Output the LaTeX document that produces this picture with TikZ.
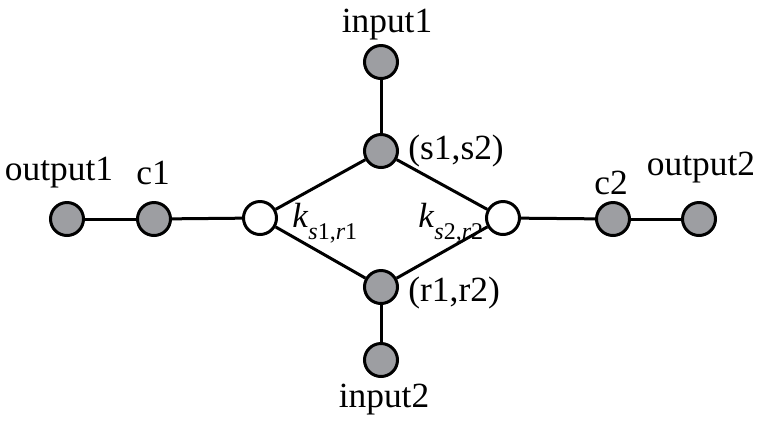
\documentclass[tikz,border=0pt]{standalone}
\usepackage{fontspec}
\setmainfont{Liberation Serif}
\usepackage{xcolor}
\usepackage{tikz}
\usetikzlibrary{positioning}
\definecolor{nodegray}{RGB}{157,158,162}
\newcommand{\kk}[1]{{\fontsize{17.5}{20}\selectfont\textit{k}}\raisebox{-6pt}{\fontsize{12}{14}\selectfont #1}}

\begin{document}
\begin{tikzpicture}[x = .5pt, y = -.5pt,
  gnode/.style = {circle, draw, line width = 1.5pt, fill = nodegray, minimum size = 16.5pt, inner sep = 0pt},
  wnode/.style = {gnode, fill = white},
  edge/.style = {line width = 1.5pt},
  lbl/.style = {font = \fontsize{17.7}{20}\selectfont, inner sep = 0pt}]
\useasboundingbox (0,0) rectangle (761,420);
% nodes
\node[gnode] (o1) at (67,219) {};
\node[gnode] (c1) at (154,219) {};
\node[wnode] (kl) at (260,218) {};
\node[gnode] (ss) at (381,151) {};
\node[gnode] (in1) at (381,62) {};
\node[gnode] (rr) at (381,287) {};
\node[gnode] (in2) at (381,360) {};
\node[wnode] (kr) at (503,218) {};
\node[gnode] (c2) at (613,219) {};
\node[gnode] (o2) at (699,219) {};
% edges
\draw[edge] (o1) -- (c1);
\draw[edge] (c1) -- (kl);
\draw[edge] (kl) -- (ss);
\draw[edge] (kl) -- (rr);
\draw[edge] (in1) -- (ss);
\draw[edge] (rr) -- (in2);
\draw[edge] (ss) -- (kr);
\draw[edge] (rr) -- (kr);
\draw[edge] (kr) -- (c2);
\draw[edge] (c2) -- (o2);
% labels
\node[lbl, anchor = base] (lo1) at (59,180) {output1};
\node[lbl, anchor = base] (lc1) at (153,184) {c1};
\node[lbl, anchor = base] (lc2) at (611,194) {c2};
\node[lbl, anchor = base] (lo2) at (701,175) {output2};
\node[lbl, anchor = base] (lin1) at (387,32) {input1};
\node[lbl, anchor = base] (lin2) at (384,407) {input2};
\node[lbl, anchor = west] (lss) at (408,151) {(s1,s2)};
\node[lbl, anchor = west] (lrr) at (408,293) {(r1,r2)};
\node[inner sep = 0pt, anchor = base west] (lkl) at (292,227) {\kk{\textit{s}1,\textit{r}1}};
\node[inner sep = 0pt, anchor = base west] (lkr) at (418,227) {\kk{\textit{s}2,\textit{r}2}};
\end{tikzpicture}
\end{document}
